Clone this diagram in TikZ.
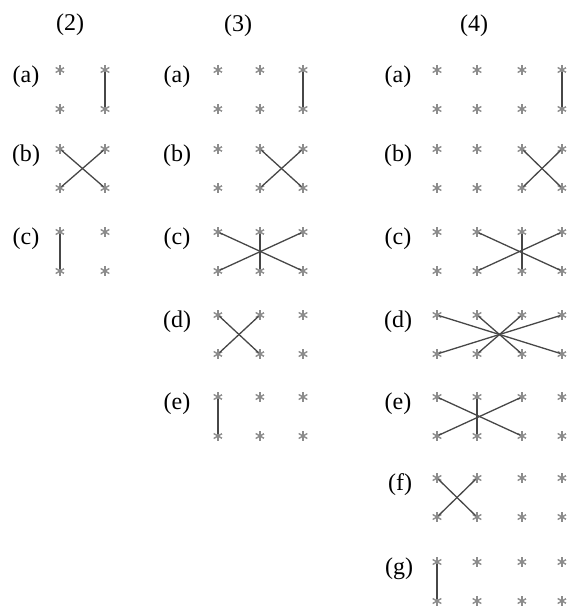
\documentclass[tikz,border=0pt]{standalone}
\usepackage{fontspec}
\setmainfont{Liberation Serif}

\begin{document}
\begin{tikzpicture}[x=1pt,y=-1pt]

\tikzstyle{STAR} = [circle, inner sep=0pt, minimum size=11pt, path picture={
  \draw[black!45, line width=1.4pt] (path picture bounding box.center) ++(90:5pt) -- ++(270:10pt);
  \draw[black!45, line width=1.4pt] (path picture bounding box.center) ++(30:5pt) -- ++(210:10pt);
  \draw[black!45, line width=1.4pt] (path picture bounding box.center) ++(150:5pt) -- ++(330:10pt);}]
\tikzstyle{LBL} = [inner sep=0pt, font=\fontsize{24}{26}\selectfont]
\tikzstyle{link} = [line width=1.3pt, black!72, shorten <=2pt, shorten >=2pt]

\useasboundingbox (0,0) rectangle (574,612);

% headers
\node (H2) [LBL] at (70,25) {(2)};
\node (H3) [LBL] at (238,26) {(3)};
\node (H4) [LBL] at (474,26) {(4)};

% panel (2)
\foreach \r/\y in {a/70,b/149,c/232}{
  \node (L2\r) [LBL] at (26,\y+7) {(\r)};
  \foreach \c/\x in {1/60,2/105}{
    \node (S2\r\c t) [STAR] at (\x,\y) {};
    \node (S2\r\c b) [STAR] at (\x,\y+39) {};
  }
}

% panel (3)
\foreach \r/\y in {a/70,b/149,c/232,d/315,e/397}{
  \node (L3\r) [LBL] at (177,\y+7) {(\r)};
  \foreach \c/\x in {1/218,2/260,3/303}{
    \node (S3\r\c t) [STAR] at (\x,\y) {};
    \node (S3\r\c b) [STAR] at (\x,\y+39) {};
  }
}

% panel (4)
\foreach \r/\y/\lx in {a/70/398,b/149/398,c/232/398,d/315/398,e/397/398,f/478/400,g/562/399}{
  \node (L4\r) [LBL] at (\lx,\y+7) {(\r)};
  \foreach \c/\x in {1/437,2/477,3/522,4/562}{
    \node (S4\r\c t) [STAR] at (\x,\y) {};
    \node (S4\r\c b) [STAR] at (\x,\y+39) {};
  }
}

% links (2)
\draw[link] (S2a2t.center) -- (S2a2b.center);
\draw[link] (S2b1t.center) -- (S2b2b.center);
\draw[link] (S2b2t.center) -- (S2b1b.center);
\draw[link] (S2c1t.center) -- (S2c1b.center);

% links (3)
\draw[link] (S3a3t.center) -- (S3a3b.center);
\draw[link] (S3b2t.center) -- (S3b3b.center);
\draw[link] (S3b3t.center) -- (S3b2b.center);
\draw[link] (S3c1t.center) -- (S3c3b.center);
\draw[link] (S3c3t.center) -- (S3c1b.center);
\draw[link] (S3c2t.center) -- (S3c2b.center);
\draw[link] (S3d1t.center) -- (S3d2b.center);
\draw[link] (S3d2t.center) -- (S3d1b.center);
\draw[link] (S3e1t.center) -- (S3e1b.center);

% links (4)
\draw[link] (S4a4t.center) -- (S4a4b.center);
\draw[link] (S4b3t.center) -- (S4b4b.center);
\draw[link] (S4b4t.center) -- (S4b3b.center);
\draw[link] (S4c2t.center) -- (S4c4b.center);
\draw[link] (S4c4t.center) -- (S4c2b.center);
\draw[link] (S4c3t.center) -- (S4c3b.center);
\draw[link] (S4d1t.center) -- (S4d4b.center);
\draw[link] (S4d4t.center) -- (S4d1b.center);
\draw[link] (S4d2t.center) -- (S4d3b.center);
\draw[link] (S4d3t.center) -- (S4d2b.center);
\draw[link] (S4e1t.center) -- (S4e3b.center);
\draw[link] (S4e3t.center) -- (S4e1b.center);
\draw[link] (S4e2t.center) -- (S4e2b.center);
\draw[link] (S4f1t.center) -- (S4f2b.center);
\draw[link] (S4f2t.center) -- (S4f1b.center);
\draw[link] (S4g1t.center) -- (S4g1b.center);

\end{tikzpicture}
\end{document}
